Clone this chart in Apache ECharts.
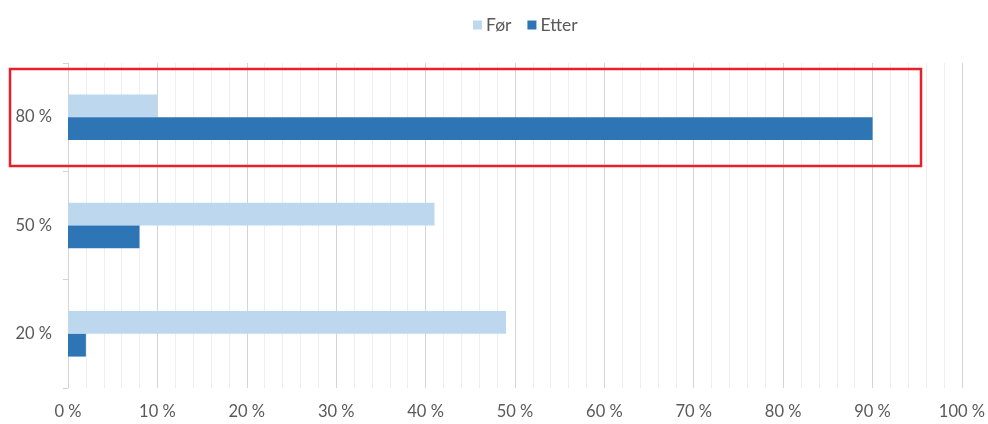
<!DOCTYPE html>
<html>
<head>
<meta charset="utf-8">
<script src="https://cdn.jsdelivr.net/npm/echarts@6/dist/echarts.min.js"></script>
<style>html,body{margin:0;padding:0;background:#fff;}#c{width:988px;height:424px;}</style>
</head>
<body>
<div id="c"></div>
<script>
const categories = ['80 %', '50 %', '20 %'];
const forValues = [10, 41, 49];
const etterValues = [90, 8, 2];
const seriesNames = ['Før', 'Etter'];

const chart = echarts.init(document.getElementById('c'));
const font = 'Lato, "Open Sans", sans-serif';
chart.setOption({
  animation: false,
  textStyle: { fontFamily: font },
  legend: {
    top: 11, left: 468, itemWidth: 9, itemHeight: 9, itemGap: 16,
    icon: 'rect',
    textStyle: { color: '#595959', fontSize: 17.5, fontFamily: font, padding: [0, 0, 0, -1] },
    data: seriesNames
  },
  grid: { left: 68, right: 26, top: 63, bottom: 36, containLabel: false },
  xAxis: {
    type: 'value', min: 0, max: 100, interval: 10,
    axisLine: { show: false }, axisTick: { show: false },
    axisLabel: { formatter: v => v + ' %', color: '#595959', fontSize: 16.5, margin: 15, fontFamily: font },
    splitLine: { show: true, lineStyle: { color: '#d4d4d4', width: 1 } },
    minorTick: { show: false, splitNumber: 5 },
    minorSplitLine: { show: true, lineStyle: { color: '#eeeeee', width: 1 } }
  },
  yAxis: {
    type: 'category', inverse: true, data: categories,
    axisLine: { show: true, lineStyle: { color: '#d4d4d4', width: 1 } },
    axisTick: { show: true, length: 5, lineStyle: { color: '#d4d4d4' } },
    axisLabel: { color: '#595959', fontSize: 16.5, margin: 16, fontFamily: font }
  },
  series: [
    { name: seriesNames[0], type: 'bar', data: forValues, barGap: '0%', barCategoryGap: '58%',
      itemStyle: { color: '#bdd7ee' } },
    { name: seriesNames[1], type: 'bar', data: etterValues, barGap: '0%', barCategoryGap: '58%',
      itemStyle: { color: '#2e75b6' } }
  ],
  graphic: [{
    type: 'rect',
    shape: { x: 10, y: 69, width: 911, height: 97 },
    style: { fill: 'none', stroke: '#e8202a', lineWidth: 2.5 },
    z: 100
  }]
});
</script>
</body>
</html>
